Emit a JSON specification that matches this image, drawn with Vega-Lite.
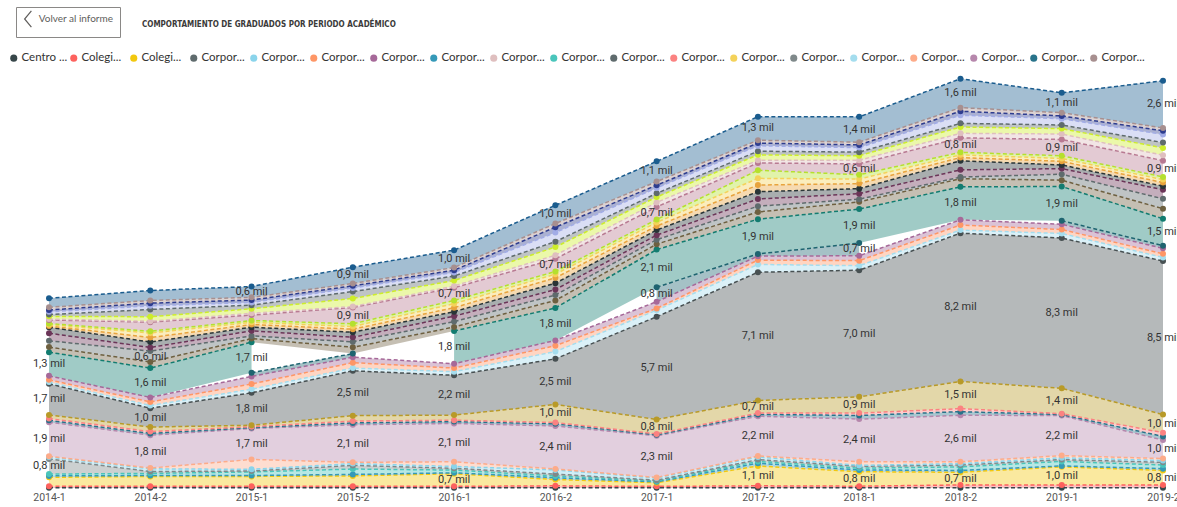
{
  "$schema": "https://vega.github.io/schema/vega-lite/v6.json",
  "width": 1114,
  "height": 416,
  "autosize": {"type": "none"},
  "padding": {"left": 49, "top": 72, "right": 14, "bottom": 19},
  "background": "white",
  "title": {
    "text": "COMPORTAMIENTO DE GRADUADOS POR PERIODO ACADÉMICO",
    "anchor": "start",
    "frame": "group",
    "font": "DejaVu Sans Condensed",
    "fontSize": 8,
    "fontWeight": "bold",
    "color": "#3B3A39",
    "dx": 93,
    "dy": 26
  },
  "config": {
    "view": {"stroke": null},
    "font": "Lato"
  },
  "data": {
    "values": [
      {"periodo": "2014-1", "institucion": "Centro de Estudios Superiores María Goretti", "graduados": 20},
      {"periodo": "2014-2", "institucion": "Centro de Estudios Superiores María Goretti", "graduados": 20},
      {"periodo": "2015-1", "institucion": "Centro de Estudios Superiores María Goretti", "graduados": 20},
      {"periodo": "2015-2", "institucion": "Centro de Estudios Superiores María Goretti", "graduados": 20},
      {"periodo": "2016-1", "institucion": "Centro de Estudios Superiores María Goretti", "graduados": 20},
      {"periodo": "2016-2", "institucion": "Centro de Estudios Superiores María Goretti", "graduados": 20},
      {"periodo": "2017-1", "institucion": "Centro de Estudios Superiores María Goretti", "graduados": 20},
      {"periodo": "2017-2", "institucion": "Centro de Estudios Superiores María Goretti", "graduados": 20},
      {"periodo": "2018-1", "institucion": "Centro de Estudios Superiores María Goretti", "graduados": 20},
      {"periodo": "2018-2", "institucion": "Centro de Estudios Superiores María Goretti", "graduados": 20},
      {"periodo": "2019-1", "institucion": "Centro de Estudios Superiores María Goretti", "graduados": 20},
      {"periodo": "2019-2", "institucion": "Centro de Estudios Superiores María Goretti", "graduados": 20},
      {"periodo": "2014-1", "institucion": "Colegio Mayor de Antioquia", "graduados": 70},
      {"periodo": "2014-2", "institucion": "Colegio Mayor de Antioquia", "graduados": 70},
      {"periodo": "2015-1", "institucion": "Colegio Mayor de Antioquia", "graduados": 70},
      {"periodo": "2015-2", "institucion": "Colegio Mayor de Antioquia", "graduados": 80},
      {"periodo": "2016-1", "institucion": "Colegio Mayor de Antioquia", "graduados": 70},
      {"periodo": "2016-2", "institucion": "Colegio Mayor de Antioquia", "graduados": 100},
      {"periodo": "2017-1", "institucion": "Colegio Mayor de Antioquia", "graduados": 70},
      {"periodo": "2017-2", "institucion": "Colegio Mayor de Antioquia", "graduados": 100},
      {"periodo": "2018-1", "institucion": "Colegio Mayor de Antioquia", "graduados": 80},
      {"periodo": "2018-2", "institucion": "Colegio Mayor de Antioquia", "graduados": 150},
      {"periodo": "2019-1", "institucion": "Colegio Mayor de Antioquia", "graduados": 150},
      {"periodo": "2019-2", "institucion": "Colegio Mayor de Antioquia", "graduados": 150},
      {"periodo": "2014-1", "institucion": "Colegio Mayor del Cauca", "graduados": 500},
      {"periodo": "2014-2", "institucion": "Colegio Mayor del Cauca", "graduados": 550},
      {"periodo": "2015-1", "institucion": "Colegio Mayor del Cauca", "graduados": 550},
      {"periodo": "2015-2", "institucion": "Colegio Mayor del Cauca", "graduados": 570},
      {"periodo": "2016-1", "institucion": "Colegio Mayor del Cauca", "graduados": 700},
      {"periodo": "2016-2", "institucion": "Colegio Mayor del Cauca", "graduados": 350},
      {"periodo": "2017-1", "institucion": "Colegio Mayor del Cauca", "graduados": 200},
      {"periodo": "2017-2", "institucion": "Colegio Mayor del Cauca", "graduados": 1100},
      {"periodo": "2018-1", "institucion": "Colegio Mayor del Cauca", "graduados": 800},
      {"periodo": "2018-2", "institucion": "Colegio Mayor del Cauca", "graduados": 700},
      {"periodo": "2019-1", "institucion": "Colegio Mayor del Cauca", "graduados": 1000},
      {"periodo": "2019-2", "institucion": "Colegio Mayor del Cauca", "graduados": 800},
      {"periodo": "2014-1", "institucion": "Corporación Universitaria Autónoma de Nariño", "graduados": 80},
      {"periodo": "2014-2", "institucion": "Corporación Universitaria Autónoma de Nariño", "graduados": 50},
      {"periodo": "2015-1", "institucion": "Corporación Universitaria Autónoma de Nariño", "graduados": 50},
      {"periodo": "2015-2", "institucion": "Corporación Universitaria Autónoma de Nariño", "graduados": 80},
      {"periodo": "2016-1", "institucion": "Corporación Universitaria Autónoma de Nariño", "graduados": 50},
      {"periodo": "2016-2", "institucion": "Corporación Universitaria Autónoma de Nariño", "graduados": 100},
      {"periodo": "2017-1", "institucion": "Corporación Universitaria Autónoma de Nariño", "graduados": 50},
      {"periodo": "2017-2", "institucion": "Corporación Universitaria Autónoma de Nariño", "graduados": 150},
      {"periodo": "2018-1", "institucion": "Corporación Universitaria Autónoma de Nariño", "graduados": 100},
      {"periodo": "2018-2", "institucion": "Corporación Universitaria Autónoma de Nariño", "graduados": 100},
      {"periodo": "2019-1", "institucion": "Corporación Universitaria Autónoma de Nariño", "graduados": 50},
      {"periodo": "2019-2", "institucion": "Corporación Universitaria Autónoma de Nariño", "graduados": 100},
      {"periodo": "2014-1", "institucion": "Corporación Universitaria de Colombia IDEAS", "graduados": 100},
      {"periodo": "2014-2", "institucion": "Corporación Universitaria de Colombia IDEAS", "graduados": 120},
      {"periodo": "2015-1", "institucion": "Corporación Universitaria de Colombia IDEAS", "graduados": 200},
      {"periodo": "2015-2", "institucion": "Corporación Universitaria de Colombia IDEAS", "graduados": 300},
      {"periodo": "2016-1", "institucion": "Corporación Universitaria de Colombia IDEAS", "graduados": 150},
      {"periodo": "2016-2", "institucion": "Corporación Universitaria de Colombia IDEAS", "graduados": 100},
      {"periodo": "2017-1", "institucion": "Corporación Universitaria de Colombia IDEAS", "graduados": 50},
      {"periodo": "2017-2", "institucion": "Corporación Universitaria de Colombia IDEAS", "graduados": 100},
      {"periodo": "2018-1", "institucion": "Corporación Universitaria de Colombia IDEAS", "graduados": 100},
      {"periodo": "2018-2", "institucion": "Corporación Universitaria de Colombia IDEAS", "graduados": 200},
      {"periodo": "2019-1", "institucion": "Corporación Universitaria de Colombia IDEAS", "graduados": 250},
      {"periodo": "2019-2", "institucion": "Corporación Universitaria de Colombia IDEAS", "graduados": 200},
      {"periodo": "2014-1", "institucion": "Corporación Universitaria Rafael Núñez", "graduados": 840},
      {"periodo": "2014-2", "institucion": "Corporación Universitaria Rafael Núñez", "graduados": 100},
      {"periodo": "2015-1", "institucion": "Corporación Universitaria Rafael Núñez", "graduados": 50},
      {"periodo": "2015-2", "institucion": "Corporación Universitaria Rafael Núñez", "graduados": 200},
      {"periodo": "2016-1", "institucion": "Corporación Universitaria Rafael Núñez", "graduados": 100},
      {"periodo": "2016-2", "institucion": "Corporación Universitaria Rafael Núñez", "graduados": 100},
      {"periodo": "2017-1", "institucion": "Corporación Universitaria Rafael Núñez", "graduados": 40},
      {"periodo": "2017-2", "institucion": "Corporación Universitaria Rafael Núñez", "graduados": 100},
      {"periodo": "2018-1", "institucion": "Corporación Universitaria Rafael Núñez", "graduados": 100},
      {"periodo": "2018-2", "institucion": "Corporación Universitaria Rafael Núñez", "graduados": 100},
      {"periodo": "2019-1", "institucion": "Corporación Universitaria Rafael Núñez", "graduados": 100},
      {"periodo": "2019-2", "institucion": "Corporación Universitaria Rafael Núñez", "graduados": 150},
      {"periodo": "2014-1", "institucion": "Corporación Universitaria Adventista", "graduados": 100},
      {"periodo": "2014-2", "institucion": "Corporación Universitaria Adventista", "graduados": 150},
      {"periodo": "2015-1", "institucion": "Corporación Universitaria Adventista", "graduados": 90},
      {"periodo": "2015-2", "institucion": "Corporación Universitaria Adventista", "graduados": 100},
      {"periodo": "2016-1", "institucion": "Corporación Universitaria Adventista", "graduados": 100},
      {"periodo": "2016-2", "institucion": "Corporación Universitaria Adventista", "graduados": 230},
      {"periodo": "2017-1", "institucion": "Corporación Universitaria Adventista", "graduados": 120},
      {"periodo": "2017-2", "institucion": "Corporación Universitaria Adventista", "graduados": 150},
      {"periodo": "2018-1", "institucion": "Corporación Universitaria Adventista", "graduados": 50},
      {"periodo": "2018-2", "institucion": "Corporación Universitaria Adventista", "graduados": 80},
      {"periodo": "2019-1", "institucion": "Corporación Universitaria Adventista", "graduados": 100},
      {"periodo": "2019-2", "institucion": "Corporación Universitaria Adventista", "graduados": 100},
      {"periodo": "2014-1", "institucion": "Corporación Universitaria Unitec", "graduados": 50},
      {"periodo": "2014-2", "institucion": "Corporación Universitaria Unitec", "graduados": 40},
      {"periodo": "2015-1", "institucion": "Corporación Universitaria Unitec", "graduados": 550},
      {"periodo": "2015-2", "institucion": "Corporación Universitaria Unitec", "graduados": 70},
      {"periodo": "2016-1", "institucion": "Corporación Universitaria Unitec", "graduados": 260},
      {"periodo": "2016-2", "institucion": "Corporación Universitaria Unitec", "graduados": 50},
      {"periodo": "2017-1", "institucion": "Corporación Universitaria Unitec", "graduados": 30},
      {"periodo": "2017-2", "institucion": "Corporación Universitaria Unitec", "graduados": 50},
      {"periodo": "2018-1", "institucion": "Corporación Universitaria Unitec", "graduados": 200},
      {"periodo": "2018-2", "institucion": "Corporación Universitaria Unitec", "graduados": 100},
      {"periodo": "2019-1", "institucion": "Corporación Universitaria Unitec", "graduados": 120},
      {"periodo": "2019-2", "institucion": "Corporación Universitaria Unitec", "graduados": 110},
      {"periodo": "2014-1", "institucion": "Corporación Universitaria Americana", "graduados": 1880},
      {"periodo": "2014-2", "institucion": "Corporación Universitaria Americana", "graduados": 1820},
      {"periodo": "2015-1", "institucion": "Corporación Universitaria Americana", "graduados": 1710},
      {"periodo": "2015-2", "institucion": "Corporación Universitaria Americana", "graduados": 2080},
      {"periodo": "2016-1", "institucion": "Corporación Universitaria Americana", "graduados": 2120},
      {"periodo": "2016-2", "institucion": "Corporación Universitaria Americana", "graduados": 2380},
      {"periodo": "2017-1", "institucion": "Corporación Universitaria Americana", "graduados": 2310},
      {"periodo": "2017-2", "institucion": "Corporación Universitaria Americana", "graduados": 2200},
      {"periodo": "2018-1", "institucion": "Corporación Universitaria Americana", "graduados": 2360},
      {"periodo": "2018-2", "institucion": "Corporación Universitaria Americana", "graduados": 2570},
      {"periodo": "2019-1", "institucion": "Corporación Universitaria Americana", "graduados": 2220},
      {"periodo": "2019-2", "institucion": "Corporación Universitaria Americana", "graduados": 1020},
      {"periodo": "2014-1", "institucion": "Corporación Universitaria Comfacauca", "graduados": 100},
      {"periodo": "2014-2", "institucion": "Corporación Universitaria Comfacauca", "graduados": 100},
      {"periodo": "2015-1", "institucion": "Corporación Universitaria Comfacauca", "graduados": 50},
      {"periodo": "2015-2", "institucion": "Corporación Universitaria Comfacauca", "graduados": 100},
      {"periodo": "2016-1", "institucion": "Corporación Universitaria Comfacauca", "graduados": 100},
      {"periodo": "2016-2", "institucion": "Corporación Universitaria Comfacauca", "graduados": 120},
      {"periodo": "2017-1", "institucion": "Corporación Universitaria Comfacauca", "graduados": 50},
      {"periodo": "2017-2", "institucion": "Corporación Universitaria Comfacauca", "graduados": 100},
      {"periodo": "2018-1", "institucion": "Corporación Universitaria Comfacauca", "graduados": 200},
      {"periodo": "2018-2", "institucion": "Corporación Universitaria Comfacauca", "graduados": 200},
      {"periodo": "2019-1", "institucion": "Corporación Universitaria Comfacauca", "graduados": 50},
      {"periodo": "2019-2", "institucion": "Corporación Universitaria Comfacauca", "graduados": 200},
      {"periodo": "2014-1", "institucion": "Corporación Universitaria Republicana", "graduados": 100},
      {"periodo": "2014-2", "institucion": "Corporación Universitaria Republicana", "graduados": 100},
      {"periodo": "2015-1", "institucion": "Corporación Universitaria Republicana", "graduados": 50},
      {"periodo": "2015-2", "institucion": "Corporación Universitaria Republicana", "graduados": 100},
      {"periodo": "2016-1", "institucion": "Corporación Universitaria Republicana", "graduados": 80},
      {"periodo": "2016-2", "institucion": "Corporación Universitaria Republicana", "graduados": 70},
      {"periodo": "2017-1", "institucion": "Corporación Universitaria Republicana", "graduados": 50},
      {"periodo": "2017-2", "institucion": "Corporación Universitaria Republicana", "graduados": 70},
      {"periodo": "2018-1", "institucion": "Corporación Universitaria Republicana", "graduados": 130},
      {"periodo": "2018-2", "institucion": "Corporación Universitaria Republicana", "graduados": 170},
      {"periodo": "2019-1", "institucion": "Corporación Universitaria Republicana", "graduados": 50},
      {"periodo": "2019-2", "institucion": "Corporación Universitaria Republicana", "graduados": 210},
      {"periodo": "2014-1", "institucion": "Fundación Universitaria del Área Andina", "graduados": 200},
      {"periodo": "2014-2", "institucion": "Fundación Universitaria del Área Andina", "graduados": 250},
      {"periodo": "2015-1", "institucion": "Fundación Universitaria del Área Andina", "graduados": 80},
      {"periodo": "2015-2", "institucion": "Fundación Universitaria del Área Andina", "graduados": 300},
      {"periodo": "2016-1", "institucion": "Fundación Universitaria del Área Andina", "graduados": 280},
      {"periodo": "2016-2", "institucion": "Fundación Universitaria del Área Andina", "graduados": 1000},
      {"periodo": "2017-1", "institucion": "Fundación Universitaria del Área Andina", "graduados": 800},
      {"periodo": "2017-2", "institucion": "Fundación Universitaria del Área Andina", "graduados": 700},
      {"periodo": "2018-1", "institucion": "Fundación Universitaria del Área Andina", "graduados": 900},
      {"periodo": "2018-2", "institucion": "Fundación Universitaria del Área Andina", "graduados": 1500},
      {"periodo": "2019-1", "institucion": "Fundación Universitaria del Área Andina", "graduados": 1400},
      {"periodo": "2019-2", "institucion": "Fundación Universitaria del Área Andina", "graduados": 1000},
      {"periodo": "2014-1", "institucion": "Universidad Nacional Abierta y a Distancia", "graduados": 1720},
      {"periodo": "2014-2", "institucion": "Universidad Nacional Abierta y a Distancia", "graduados": 1040},
      {"periodo": "2015-1", "institucion": "Universidad Nacional Abierta y a Distancia", "graduados": 1790},
      {"periodo": "2015-2", "institucion": "Universidad Nacional Abierta y a Distancia", "graduados": 2480},
      {"periodo": "2016-1", "institucion": "Universidad Nacional Abierta y a Distancia", "graduados": 2200},
      {"periodo": "2016-2", "institucion": "Universidad Nacional Abierta y a Distancia", "graduados": 2520},
      {"periodo": "2017-1", "institucion": "Universidad Nacional Abierta y a Distancia", "graduados": 5680},
      {"periodo": "2017-2", "institucion": "Universidad Nacional Abierta y a Distancia", "graduados": 7090},
      {"periodo": "2018-1", "institucion": "Universidad Nacional Abierta y a Distancia", "graduados": 7000},
      {"periodo": "2018-2", "institucion": "Universidad Nacional Abierta y a Distancia", "graduados": 8200},
      {"periodo": "2019-1", "institucion": "Universidad Nacional Abierta y a Distancia", "graduados": 8310},
      {"periodo": "2019-2", "institucion": "Universidad Nacional Abierta y a Distancia", "graduados": 8490},
      {"periodo": "2014-1", "institucion": "Corporación Universitaria Lasallista", "graduados": 100},
      {"periodo": "2014-2", "institucion": "Corporación Universitaria Lasallista", "graduados": 150},
      {"periodo": "2015-1", "institucion": "Corporación Universitaria Lasallista", "graduados": 200},
      {"periodo": "2015-2", "institucion": "Corporación Universitaria Lasallista", "graduados": 150},
      {"periodo": "2016-1", "institucion": "Corporación Universitaria Lasallista", "graduados": 200},
      {"periodo": "2016-2", "institucion": "Corporación Universitaria Lasallista", "graduados": 400},
      {"periodo": "2017-1", "institucion": "Corporación Universitaria Lasallista", "graduados": 360},
      {"periodo": "2017-2", "institucion": "Corporación Universitaria Lasallista", "graduados": 430},
      {"periodo": "2018-1", "institucion": "Corporación Universitaria Lasallista", "graduados": 250},
      {"periodo": "2018-2", "institucion": "Corporación Universitaria Lasallista", "graduados": 170},
      {"periodo": "2019-1", "institucion": "Corporación Universitaria Lasallista", "graduados": 250},
      {"periodo": "2019-2", "institucion": "Corporación Universitaria Lasallista", "graduados": 200},
      {"periodo": "2014-1", "institucion": "Corporación Universitaria Autónoma del Cauca", "graduados": 120},
      {"periodo": "2014-2", "institucion": "Corporación Universitaria Autónoma del Cauca", "graduados": 200},
      {"periodo": "2015-1", "institucion": "Corporación Universitaria Autónoma del Cauca", "graduados": 290},
      {"periodo": "2015-2", "institucion": "Corporación Universitaria Autónoma del Cauca", "graduados": 300},
      {"periodo": "2016-1", "institucion": "Corporación Universitaria Autónoma del Cauca", "graduados": 200},
      {"periodo": "2016-2", "institucion": "Corporación Universitaria Autónoma del Cauca", "graduados": 330},
      {"periodo": "2017-1", "institucion": "Corporación Universitaria Autónoma del Cauca", "graduados": 100},
      {"periodo": "2017-2", "institucion": "Corporación Universitaria Autónoma del Cauca", "graduados": 240},
      {"periodo": "2018-1", "institucion": "Corporación Universitaria Autónoma del Cauca", "graduados": 280},
      {"periodo": "2018-2", "institucion": "Corporación Universitaria Autónoma del Cauca", "graduados": 280},
      {"periodo": "2019-1", "institucion": "Corporación Universitaria Autónoma del Cauca", "graduados": 220},
      {"periodo": "2019-2", "institucion": "Corporación Universitaria Autónoma del Cauca", "graduados": 200},
      {"periodo": "2014-1", "institucion": "Corporación Universitaria U de Colombia", "graduados": 220},
      {"periodo": "2014-2", "institucion": "Corporación Universitaria U de Colombia", "graduados": 250},
      {"periodo": "2015-1", "institucion": "Corporación Universitaria U de Colombia", "graduados": 420},
      {"periodo": "2015-2", "institucion": "Corporación Universitaria U de Colombia", "graduados": 300},
      {"periodo": "2016-1", "institucion": "Corporación Universitaria U de Colombia", "graduados": 240},
      {"periodo": "2016-2", "institucion": "Corporación Universitaria U de Colombia", "graduados": 290},
      {"periodo": "2017-1", "institucion": "Corporación Universitaria U de Colombia", "graduados": 370},
      {"periodo": "2017-2", "institucion": "Corporación Universitaria U de Colombia", "graduados": 220},
      {"periodo": "2018-1", "institucion": "Corporación Universitaria U de Colombia", "graduados": 270},
      {"periodo": "2018-2", "institucion": "Corporación Universitaria U de Colombia", "graduados": 290},
      {"periodo": "2019-1", "institucion": "Corporación Universitaria U de Colombia", "graduados": 290},
      {"periodo": "2019-2", "institucion": "Corporación Universitaria U de Colombia", "graduados": 300},
      {"periodo": "2014-1", "institucion": "Fundación Universitaria Católica del Norte", "graduados": null},
      {"periodo": "2014-2", "institucion": "Fundación Universitaria Católica del Norte", "graduados": null},
      {"periodo": "2015-1", "institucion": "Fundación Universitaria Católica del Norte", "graduados": 200},
      {"periodo": "2015-2", "institucion": "Fundación Universitaria Católica del Norte", "graduados": 200},
      {"periodo": "2016-1", "institucion": "Fundación Universitaria Católica del Norte", "graduados": null},
      {"periodo": "2016-2", "institucion": "Fundación Universitaria Católica del Norte", "graduados": null},
      {"periodo": "2017-1", "institucion": "Fundación Universitaria Católica del Norte", "graduados": 800},
      {"periodo": "2017-2", "institucion": "Fundación Universitaria Católica del Norte", "graduados": 120},
      {"periodo": "2018-1", "institucion": "Fundación Universitaria Católica del Norte", "graduados": 700},
      {"periodo": "2018-2", "institucion": "Fundación Universitaria Católica del Norte", "graduados": null},
      {"periodo": "2019-1", "institucion": "Fundación Universitaria Católica del Norte", "graduados": 200},
      {"periodo": "2019-2", "institucion": "Fundación Universitaria Católica del Norte", "graduados": 150},
      {"periodo": "2014-1", "institucion": "Fundación Universitaria Los Libertadores", "graduados": 1310},
      {"periodo": "2014-2", "institucion": "Fundación Universitaria Los Libertadores", "graduados": 1620},
      {"periodo": "2015-1", "institucion": "Fundación Universitaria Los Libertadores", "graduados": 1690},
      {"periodo": "2015-2", "institucion": "Fundación Universitaria Los Libertadores", "graduados": null},
      {"periodo": "2016-1", "institucion": "Fundación Universitaria Los Libertadores", "graduados": 1810},
      {"periodo": "2016-2", "institucion": "Fundación Universitaria Los Libertadores", "graduados": 1790},
      {"periodo": "2017-1", "institucion": "Fundación Universitaria Los Libertadores", "graduados": 2080},
      {"periodo": "2017-2", "institucion": "Fundación Universitaria Los Libertadores", "graduados": 1920},
      {"periodo": "2018-1", "institucion": "Fundación Universitaria Los Libertadores", "graduados": 1880},
      {"periodo": "2018-2", "institucion": "Fundación Universitaria Los Libertadores", "graduados": 1820},
      {"periodo": "2019-1", "institucion": "Fundación Universitaria Los Libertadores", "graduados": 1890},
      {"periodo": "2019-2", "institucion": "Fundación Universitaria Los Libertadores", "graduados": 1490},
      {"periodo": "2014-1", "institucion": "Fundación Universitaria San Mateo", "graduados": 280},
      {"periodo": "2014-2", "institucion": "Fundación Universitaria San Mateo", "graduados": 340},
      {"periodo": "2015-1", "institucion": "Fundación Universitaria San Mateo", "graduados": 200},
      {"periodo": "2015-2", "institucion": "Fundación Universitaria San Mateo", "graduados": 350},
      {"periodo": "2016-1", "institucion": "Fundación Universitaria San Mateo", "graduados": 220},
      {"periodo": "2016-2", "institucion": "Fundación Universitaria San Mateo", "graduados": 420},
      {"periodo": "2017-1", "institucion": "Fundación Universitaria San Mateo", "graduados": 300},
      {"periodo": "2017-2", "institucion": "Fundación Universitaria San Mateo", "graduados": 400},
      {"periodo": "2018-1", "institucion": "Fundación Universitaria San Mateo", "graduados": 400},
      {"periodo": "2018-2", "institucion": "Fundación Universitaria San Mateo", "graduados": 450},
      {"periodo": "2019-1", "institucion": "Fundación Universitaria San Mateo", "graduados": 350},
      {"periodo": "2019-2", "institucion": "Fundación Universitaria San Mateo", "graduados": 550},
      {"periodo": "2014-1", "institucion": "Corporación Universitaria de Ciencia y Desarrollo", "graduados": 350},
      {"periodo": "2014-2", "institucion": "Corporación Universitaria de Ciencia y Desarrollo", "graduados": 600},
      {"periodo": "2015-1", "institucion": "Corporación Universitaria de Ciencia y Desarrollo", "graduados": 150},
      {"periodo": "2015-2", "institucion": "Corporación Universitaria de Ciencia y Desarrollo", "graduados": 300},
      {"periodo": "2016-1", "institucion": "Corporación Universitaria de Ciencia y Desarrollo", "graduados": 300},
      {"periodo": "2016-2", "institucion": "Corporación Universitaria de Ciencia y Desarrollo", "graduados": 300},
      {"periodo": "2017-1", "institucion": "Corporación Universitaria de Ciencia y Desarrollo", "graduados": 250},
      {"periodo": "2017-2", "institucion": "Corporación Universitaria de Ciencia y Desarrollo", "graduados": 320},
      {"periodo": "2018-1", "institucion": "Corporación Universitaria de Ciencia y Desarrollo", "graduados": 150},
      {"periodo": "2018-2", "institucion": "Corporación Universitaria de Ciencia y Desarrollo", "graduados": 90},
      {"periodo": "2019-1", "institucion": "Corporación Universitaria de Ciencia y Desarrollo", "graduados": 330},
      {"periodo": "2019-2", "institucion": "Corporación Universitaria de Ciencia y Desarrollo", "graduados": 550},
      {"periodo": "2014-1", "institucion": "Institución Universitaria Politécnico Grancolombiano", "graduados": 420},
      {"periodo": "2014-2", "institucion": "Institución Universitaria Politécnico Grancolombiano", "graduados": 200},
      {"periodo": "2015-1", "institucion": "Institución Universitaria Politécnico Grancolombiano", "graduados": 280},
      {"periodo": "2015-2", "institucion": "Institución Universitaria Politécnico Grancolombiano", "graduados": 250},
      {"periodo": "2016-1", "institucion": "Institución Universitaria Politécnico Grancolombiano", "graduados": 300},
      {"periodo": "2016-2", "institucion": "Institución Universitaria Politécnico Grancolombiano", "graduados": 300},
      {"periodo": "2017-1", "institucion": "Institución Universitaria Politécnico Grancolombiano", "graduados": 250},
      {"periodo": "2017-2", "institucion": "Institución Universitaria Politécnico Grancolombiano", "graduados": 400},
      {"periodo": "2018-1", "institucion": "Institución Universitaria Politécnico Grancolombiano", "graduados": 300},
      {"periodo": "2018-2", "institucion": "Institución Universitaria Politécnico Grancolombiano", "graduados": 400},
      {"periodo": "2019-1", "institucion": "Institución Universitaria Politécnico Grancolombiano", "graduados": 310},
      {"periodo": "2019-2", "institucion": "Institución Universitaria Politécnico Grancolombiano", "graduados": 500},
      {"periodo": "2014-1", "institucion": "Institución Universitaria Antonio José Camacho", "graduados": 330},
      {"periodo": "2014-2", "institucion": "Institución Universitaria Antonio José Camacho", "graduados": 300},
      {"periodo": "2015-1", "institucion": "Institución Universitaria Antonio José Camacho", "graduados": 200},
      {"periodo": "2015-2", "institucion": "Institución Universitaria Antonio José Camacho", "graduados": 280},
      {"periodo": "2016-1", "institucion": "Institución Universitaria Antonio José Camacho", "graduados": 250},
      {"periodo": "2016-2", "institucion": "Institución Universitaria Antonio José Camacho", "graduados": 350},
      {"periodo": "2017-1", "institucion": "Institución Universitaria Antonio José Camacho", "graduados": 280},
      {"periodo": "2017-2", "institucion": "Institución Universitaria Antonio José Camacho", "graduados": 400},
      {"periodo": "2018-1", "institucion": "Institución Universitaria Antonio José Camacho", "graduados": 280},
      {"periodo": "2018-2", "institucion": "Institución Universitaria Antonio José Camacho", "graduados": 500},
      {"periodo": "2019-1", "institucion": "Institución Universitaria Antonio José Camacho", "graduados": 200},
      {"periodo": "2019-2", "institucion": "Institución Universitaria Antonio José Camacho", "graduados": 200},
      {"periodo": "2014-1", "institucion": "Institución Universitaria Pascual Bravo", "graduados": 70},
      {"periodo": "2014-2", "institucion": "Institución Universitaria Pascual Bravo", "graduados": 250},
      {"periodo": "2015-1", "institucion": "Institución Universitaria Pascual Bravo", "graduados": 150},
      {"periodo": "2015-2", "institucion": "Institución Universitaria Pascual Bravo", "graduados": 170},
      {"periodo": "2016-1", "institucion": "Institución Universitaria Pascual Bravo", "graduados": 220},
      {"periodo": "2016-2", "institucion": "Institución Universitaria Pascual Bravo", "graduados": 300},
      {"periodo": "2017-1", "institucion": "Institución Universitaria Pascual Bravo", "graduados": 220},
      {"periodo": "2017-2", "institucion": "Institución Universitaria Pascual Bravo", "graduados": 370},
      {"periodo": "2018-1", "institucion": "Institución Universitaria Pascual Bravo", "graduados": 280},
      {"periodo": "2018-2", "institucion": "Institución Universitaria Pascual Bravo", "graduados": 180},
      {"periodo": "2019-1", "institucion": "Institución Universitaria Pascual Bravo", "graduados": 200},
      {"periodo": "2019-2", "institucion": "Institución Universitaria Pascual Bravo", "graduados": 200},
      {"periodo": "2014-1", "institucion": "Corporación Universitaria del Huila", "graduados": 70},
      {"periodo": "2014-2", "institucion": "Corporación Universitaria del Huila", "graduados": 250},
      {"periodo": "2015-1", "institucion": "Corporación Universitaria del Huila", "graduados": 120},
      {"periodo": "2015-2", "institucion": "Corporación Universitaria del Huila", "graduados": 150},
      {"periodo": "2016-1", "institucion": "Corporación Universitaria del Huila", "graduados": 220},
      {"periodo": "2016-2", "institucion": "Corporación Universitaria del Huila", "graduados": 200},
      {"periodo": "2017-1", "institucion": "Corporación Universitaria del Huila", "graduados": 200},
      {"periodo": "2017-2", "institucion": "Corporación Universitaria del Huila", "graduados": 370},
      {"periodo": "2018-1", "institucion": "Corporación Universitaria del Huila", "graduados": 250},
      {"periodo": "2018-2", "institucion": "Corporación Universitaria del Huila", "graduados": 150},
      {"periodo": "2019-1", "institucion": "Corporación Universitaria del Huila", "graduados": 160},
      {"periodo": "2019-2", "institucion": "Corporación Universitaria del Huila", "graduados": 160},
      {"periodo": "2014-1", "institucion": "Politécnico Colombiano Jaime Isaza Cadavid", "graduados": 60},
      {"periodo": "2014-2", "institucion": "Politécnico Colombiano Jaime Isaza Cadavid", "graduados": 100},
      {"periodo": "2015-1", "institucion": "Politécnico Colombiano Jaime Isaza Cadavid", "graduados": 100},
      {"periodo": "2015-2", "institucion": "Politécnico Colombiano Jaime Isaza Cadavid", "graduados": 150},
      {"periodo": "2016-1", "institucion": "Politécnico Colombiano Jaime Isaza Cadavid", "graduados": 180},
      {"periodo": "2016-2", "institucion": "Politécnico Colombiano Jaime Isaza Cadavid", "graduados": 150},
      {"periodo": "2017-1", "institucion": "Politécnico Colombiano Jaime Isaza Cadavid", "graduados": 160},
      {"periodo": "2017-2", "institucion": "Politécnico Colombiano Jaime Isaza Cadavid", "graduados": 450},
      {"periodo": "2018-1", "institucion": "Politécnico Colombiano Jaime Isaza Cadavid", "graduados": 240},
      {"periodo": "2018-2", "institucion": "Politécnico Colombiano Jaime Isaza Cadavid", "graduados": 140},
      {"periodo": "2019-1", "institucion": "Politécnico Colombiano Jaime Isaza Cadavid", "graduados": 150},
      {"periodo": "2019-2", "institucion": "Politécnico Colombiano Jaime Isaza Cadavid", "graduados": 150},
      {"periodo": "2014-1", "institucion": "Universidad Católica de Oriente", "graduados": 200},
      {"periodo": "2014-2", "institucion": "Universidad Católica de Oriente", "graduados": 500},
      {"periodo": "2015-1", "institucion": "Universidad Católica de Oriente", "graduados": 300},
      {"periodo": "2015-2", "institucion": "Universidad Católica de Oriente", "graduados": 900},
      {"periodo": "2016-1", "institucion": "Universidad Católica de Oriente", "graduados": 700},
      {"periodo": "2016-2", "institucion": "Universidad Católica de Oriente", "graduados": 700},
      {"periodo": "2017-1", "institucion": "Universidad Católica de Oriente", "graduados": 700},
      {"periodo": "2017-2", "institucion": "Universidad Católica de Oriente", "graduados": 400},
      {"periodo": "2018-1", "institucion": "Universidad Católica de Oriente", "graduados": 600},
      {"periodo": "2018-2", "institucion": "Universidad Católica de Oriente", "graduados": 800},
      {"periodo": "2019-1", "institucion": "Universidad Católica de Oriente", "graduados": 900},
      {"periodo": "2019-2", "institucion": "Universidad Católica de Oriente", "graduados": 900},
      {"periodo": "2014-1", "institucion": "Corporación Universitaria Iberoamericana", "graduados": 50},
      {"periodo": "2014-2", "institucion": "Corporación Universitaria Iberoamericana", "graduados": 50},
      {"periodo": "2015-1", "institucion": "Corporación Universitaria Iberoamericana", "graduados": 100},
      {"periodo": "2015-2", "institucion": "Corporación Universitaria Iberoamericana", "graduados": 50},
      {"periodo": "2016-1", "institucion": "Corporación Universitaria Iberoamericana", "graduados": 100},
      {"periodo": "2016-2", "institucion": "Corporación Universitaria Iberoamericana", "graduados": 200},
      {"periodo": "2017-1", "institucion": "Corporación Universitaria Iberoamericana", "graduados": 250},
      {"periodo": "2017-2", "institucion": "Corporación Universitaria Iberoamericana", "graduados": 150},
      {"periodo": "2018-1", "institucion": "Corporación Universitaria Iberoamericana", "graduados": 200},
      {"periodo": "2018-2", "institucion": "Corporación Universitaria Iberoamericana", "graduados": 250},
      {"periodo": "2019-1", "institucion": "Corporación Universitaria Iberoamericana", "graduados": 300},
      {"periodo": "2019-2", "institucion": "Corporación Universitaria Iberoamericana", "graduados": 300},
      {"periodo": "2014-1", "institucion": "Universidad Cooperativa de Colombia", "graduados": 150},
      {"periodo": "2014-2", "institucion": "Universidad Cooperativa de Colombia", "graduados": 250},
      {"periodo": "2015-1", "institucion": "Universidad Cooperativa de Colombia", "graduados": 250},
      {"periodo": "2015-2", "institucion": "Universidad Cooperativa de Colombia", "graduados": 450},
      {"periodo": "2016-1", "institucion": "Universidad Cooperativa de Colombia", "graduados": 300},
      {"periodo": "2016-2", "institucion": "Universidad Cooperativa de Colombia", "graduados": 450},
      {"periodo": "2017-1", "institucion": "Universidad Cooperativa de Colombia", "graduados": 300},
      {"periodo": "2017-2", "institucion": "Universidad Cooperativa de Colombia", "graduados": 300},
      {"periodo": "2018-1", "institucion": "Universidad Cooperativa de Colombia", "graduados": 250},
      {"periodo": "2018-2", "institucion": "Universidad Cooperativa de Colombia", "graduados": 350},
      {"periodo": "2019-1", "institucion": "Universidad Cooperativa de Colombia", "graduados": 300},
      {"periodo": "2019-2", "institucion": "Universidad Cooperativa de Colombia", "graduados": 400},
      {"periodo": "2014-1", "institucion": "Corporación Universitaria Minuto de Dios", "graduados": 100},
      {"periodo": "2014-2", "institucion": "Corporación Universitaria Minuto de Dios", "graduados": 400},
      {"periodo": "2015-1", "institucion": "Corporación Universitaria Minuto de Dios", "graduados": 200},
      {"periodo": "2015-2", "institucion": "Corporación Universitaria Minuto de Dios", "graduados": 380},
      {"periodo": "2016-1", "institucion": "Corporación Universitaria Minuto de Dios", "graduados": 250},
      {"periodo": "2016-2", "institucion": "Corporación Universitaria Minuto de Dios", "graduados": 300},
      {"periodo": "2017-1", "institucion": "Corporación Universitaria Minuto de Dios", "graduados": 200},
      {"periodo": "2017-2", "institucion": "Corporación Universitaria Minuto de Dios", "graduados": 200},
      {"periodo": "2018-1", "institucion": "Corporación Universitaria Minuto de Dios", "graduados": 200},
      {"periodo": "2018-2", "institucion": "Corporación Universitaria Minuto de Dios", "graduados": 200},
      {"periodo": "2019-1", "institucion": "Corporación Universitaria Minuto de Dios", "graduados": 200},
      {"periodo": "2019-2", "institucion": "Corporación Universitaria Minuto de Dios", "graduados": 300},
      {"periodo": "2014-1", "institucion": "Universidad del Magdalena", "graduados": 150},
      {"periodo": "2014-2", "institucion": "Universidad del Magdalena", "graduados": 200},
      {"periodo": "2015-1", "institucion": "Universidad del Magdalena", "graduados": 150},
      {"periodo": "2015-2", "institucion": "Universidad del Magdalena", "graduados": 200},
      {"periodo": "2016-1", "institucion": "Universidad del Magdalena", "graduados": 200},
      {"periodo": "2016-2", "institucion": "Universidad del Magdalena", "graduados": 500},
      {"periodo": "2017-1", "institucion": "Universidad del Magdalena", "graduados": 300},
      {"periodo": "2017-2", "institucion": "Universidad del Magdalena", "graduados": 300},
      {"periodo": "2018-1", "institucion": "Universidad del Magdalena", "graduados": 250},
      {"periodo": "2018-2", "institucion": "Universidad del Magdalena", "graduados": 450},
      {"periodo": "2019-1", "institucion": "Universidad del Magdalena", "graduados": 350},
      {"periodo": "2019-2", "institucion": "Universidad del Magdalena", "graduados": 450},
      {"periodo": "2014-1", "institucion": "Universidad EAN", "graduados": 100},
      {"periodo": "2014-2", "institucion": "Universidad EAN", "graduados": 150},
      {"periodo": "2015-1", "institucion": "Universidad EAN", "graduados": 130},
      {"periodo": "2015-2", "institucion": "Universidad EAN", "graduados": 120},
      {"periodo": "2016-1", "institucion": "Universidad EAN", "graduados": 120},
      {"periodo": "2016-2", "institucion": "Universidad EAN", "graduados": 300},
      {"periodo": "2017-1", "institucion": "Universidad EAN", "graduados": 150},
      {"periodo": "2017-2", "institucion": "Universidad EAN", "graduados": 150},
      {"periodo": "2018-1", "institucion": "Universidad EAN", "graduados": 150},
      {"periodo": "2018-2", "institucion": "Universidad EAN", "graduados": 220},
      {"periodo": "2019-1", "institucion": "Universidad EAN", "graduados": 150},
      {"periodo": "2019-2", "institucion": "Universidad EAN", "graduados": 200},
      {"periodo": "2014-1", "institucion": "Corporación Universitaria Remington", "graduados": 150},
      {"periodo": "2014-2", "institucion": "Corporación Universitaria Remington", "graduados": 150},
      {"periodo": "2015-1", "institucion": "Corporación Universitaria Remington", "graduados": 150},
      {"periodo": "2015-2", "institucion": "Corporación Universitaria Remington", "graduados": 130},
      {"periodo": "2016-1", "institucion": "Corporación Universitaria Remington", "graduados": 150},
      {"periodo": "2016-2", "institucion": "Corporación Universitaria Remington", "graduados": 200},
      {"periodo": "2017-1", "institucion": "Corporación Universitaria Remington", "graduados": 200},
      {"periodo": "2017-2", "institucion": "Corporación Universitaria Remington", "graduados": 160},
      {"periodo": "2018-1", "institucion": "Corporación Universitaria Remington", "graduados": 150},
      {"periodo": "2018-2", "institucion": "Corporación Universitaria Remington", "graduados": 200},
      {"periodo": "2019-1", "institucion": "Corporación Universitaria Remington", "graduados": 180},
      {"periodo": "2019-2", "institucion": "Corporación Universitaria Remington", "graduados": 160},
      {"periodo": "2014-1", "institucion": "Universidad del Tolima", "graduados": 500},
      {"periodo": "2014-2", "institucion": "Universidad del Tolima", "graduados": 550},
      {"periodo": "2015-1", "institucion": "Universidad del Tolima", "graduados": 600},
      {"periodo": "2015-2", "institucion": "Universidad del Tolima", "graduados": 900},
      {"periodo": "2016-1", "institucion": "Universidad del Tolima", "graduados": 960},
      {"periodo": "2016-2", "institucion": "Universidad del Tolima", "graduados": 1010},
      {"periodo": "2017-1", "institucion": "Universidad del Tolima", "graduados": 1120},
      {"periodo": "2017-2", "institucion": "Universidad del Tolima", "graduados": 1300},
      {"periodo": "2018-1", "institucion": "Universidad del Tolima", "graduados": 1400},
      {"periodo": "2018-2", "institucion": "Universidad del Tolima", "graduados": 1600},
      {"periodo": "2019-1", "institucion": "Universidad del Tolima", "graduados": 1100},
      {"periodo": "2019-2", "institucion": "Universidad del Tolima", "graduados": 2600}
    ]
  },
  "transform": [
    {"calculate": "indexof(['Centro de Estudios Superiores María Goretti','Colegio Mayor de Antioquia','Colegio Mayor del Cauca','Corporación Universitaria Autónoma de Nariño','Corporación Universitaria de Colombia IDEAS','Corporación Universitaria Rafael Núñez','Corporación Universitaria Adventista','Corporación Universitaria Unitec','Corporación Universitaria Americana','Corporación Universitaria Comfacauca','Corporación Universitaria Republicana','Fundación Universitaria del Área Andina','Universidad Nacional Abierta y a Distancia','Corporación Universitaria Lasallista','Corporación Universitaria Autónoma del Cauca','Corporación Universitaria U de Colombia','Fundación Universitaria Católica del Norte','Fundación Universitaria Los Libertadores','Fundación Universitaria San Mateo','Corporación Universitaria de Ciencia y Desarrollo','Institución Universitaria Politécnico Grancolombiano','Institución Universitaria Antonio José Camacho','Institución Universitaria Pascual Bravo','Corporación Universitaria del Huila','Politécnico Colombiano Jaime Isaza Cadavid','Universidad Católica de Oriente','Corporación Universitaria Iberoamericana','Universidad Cooperativa de Colombia','Corporación Universitaria Minuto de Dios','Universidad del Magdalena','Universidad EAN','Corporación Universitaria Remington','Universidad del Tolima'], datum.institucion)", "as": "orden"},
    {"stack": "graduados", "groupby": ["periodo"], "sort": [{"field": "orden", "order": "ascending"}], "as": ["base", "cima"]},
    {"calculate": "datum.graduados == null ? null : datum.cima", "as": "tope"},
    {"calculate": "datum.graduados == null ? null : datum.base", "as": "piso"}
  ],
  "encoding": {
    "x": {
      "field": "periodo",
      "type": "ordinal",
      "scale": {"type": "point", "padding": 0, "domain": ["2014-1","2014-2","2015-1","2015-2","2016-1","2016-2","2017-1","2017-2","2018-1","2018-2","2019-1","2019-2"]},
      "axis": {"title": null, "labelAngle": 0, "labelFont": "Roboto", "labelFontSize": 10.5, "labelColor": "#555555", "ticks": false, "domain": false, "grid": false, "labelPadding": 4, "labelOverlap": false, "labelFlush": false}
    },
    "color": {
      "field": "institucion",
      "type": "nominal",
      "scale": {
        "domain": ["Centro de Estudios Superiores María Goretti","Colegio Mayor de Antioquia","Colegio Mayor del Cauca","Corporación Universitaria Autónoma de Nariño","Corporación Universitaria de Colombia IDEAS","Corporación Universitaria Rafael Núñez","Corporación Universitaria Adventista","Corporación Universitaria Unitec","Corporación Universitaria Americana","Corporación Universitaria Comfacauca","Corporación Universitaria Republicana","Fundación Universitaria del Área Andina","Universidad Nacional Abierta y a Distancia","Corporación Universitaria Lasallista","Corporación Universitaria Autónoma del Cauca","Corporación Universitaria U de Colombia","Fundación Universitaria Católica del Norte","Fundación Universitaria Los Libertadores","Fundación Universitaria San Mateo","Corporación Universitaria de Ciencia y Desarrollo","Institución Universitaria Politécnico Grancolombiano","Institución Universitaria Antonio José Camacho","Institución Universitaria Pascual Bravo","Corporación Universitaria del Huila","Politécnico Colombiano Jaime Isaza Cadavid","Universidad Católica de Oriente","Corporación Universitaria Iberoamericana","Universidad Cooperativa de Colombia","Corporación Universitaria Minuto de Dios","Universidad del Magdalena","Universidad EAN","Corporación Universitaria Remington","Universidad del Tolima"],
        "range": ["#374649","#FD625E","#F2C80F","#3599B8","#4AC5BB","#7F898A","#8AD4EB","#FDAB89","#B687AC","#28738A","#FB8281","#B89A28","#475052","#A4DDEE","#FE9666","#A66999","#1E6470","#127C70","#6E6040","#5F6B6D","#6B3558","#293537","#E8A33D","#F4D25A","#B5E02E","#B87A92","#DFBFBF","#CDED2A","#5F6B6D","#A2ACE6","#2E3D8F","#A78F8F","#1A5C8E"]
      },
      "legend": {
        "orient": "none",
        "legendX": -41,
        "legendY": -20,
        "direction": "horizontal",
        "columns": 19,
        "title": null,
        "values": ["Centro de Estudios Superiores María Goretti","Colegio Mayor de Antioquia","Colegio Mayor del Cauca","Corporación Universitaria de Ciencia y Desarrollo","Corporación Universitaria Adventista","Corporación Universitaria Autónoma del Cauca","Corporación Universitaria U de Colombia","Corporación Universitaria Autónoma de Nariño","Corporación Universitaria Iberoamericana","Corporación Universitaria de Colombia IDEAS","Corporación Universitaria Minuto de Dios","Corporación Universitaria Republicana","Corporación Universitaria del Huila","Corporación Universitaria Rafael Núñez","Corporación Universitaria Lasallista","Corporación Universitaria Unitec","Corporación Universitaria Americana","Corporación Universitaria Comfacauca","Corporación Universitaria Remington"],
        "labelExpr": "substring(datum.label, 0, 6) + (substring(datum.label, 6, 7) == ' ' ? ' ...' : '...')",
        "symbolType": "circle",
        "symbolSize": 50,
        "symbolOpacity": 1,
        "symbolStrokeWidth": 0,
        "labelFont": "Lato",
        "labelFontSize": 11.5,
        "labelColor": "#333333",
        "labelOffset": 2,
        "columnPadding": -0.8,
        "gridAlign": "all",
        "padding": 0
      }
    }
  },
  "layer": [
    {
      "mark": {"type": "area", "fillOpacity": 0.4, "interpolate": "linear", "invalid": "break-paths-show-domains"},
      "encoding": {
        "y": {"field": "tope", "type": "quantitative", "stack": null, "scale": {"domain": [0, 23000], "nice": false, "zero": true}, "axis": null},
        "y2": {"field": "piso"}
      }
    },
    {
      "mark": {"type": "line", "strokeDash": [4, 2.5], "strokeWidth": 1.5, "interpolate": "linear", "invalid": "break-paths-show-domains"},
      "encoding": {
        "y": {"field": "tope", "type": "quantitative", "stack": null, "scale": {"domain": [0, 23000], "nice": false, "zero": true}, "axis": null}
      }
    },
    {
      "mark": {"type": "point", "filled": true, "size": 36, "opacity": 1},
      "encoding": {
        "y": {"field": "tope", "type": "quantitative", "stack": null, "scale": {"domain": [0, 23000], "nice": false, "zero": true}, "axis": null}
      }
    },
    {
      "transform": [
        {"filter": "datum.graduados != null && datum.graduados >= 580"},
        {"calculate": "(datum.base + datum.cima) / 2", "as": "medio"},
        {"calculate": "replace(format(datum.graduados / 1000, '.1f'), '.', ',') + ' mil'", "as": "etiqueta"}
      ],
      "mark": {"type": "text", "font": "Roboto", "fontSize": 11, "align": "center", "baseline": "middle"},
      "encoding": {
        "y": {"field": "medio", "type": "quantitative", "stack": null, "scale": {"domain": [0, 23000], "nice": false, "zero": true}, "axis": null},
        "text": {"field": "etiqueta", "type": "nominal"},
        "color": {"value": "#333333"}
      }
    },
    {
      "transform": [
        {"filter": "datum.orden == 0 && datum.periodo == '2014-1'"}
      ],
      "mark": {"type": "point", "opacity": 0, "filled": false, "color": "#605E5C", "strokeWidth": 1.2},
      "encoding": {
        "y": {"field": "tope", "type": "quantitative", "stack": null, "scale": {"domain": [0, 23000], "nice": false, "zero": true}, "axis": null},
        "color": {"value": "#605E5C"},
        "shape": {
          "datum": "Volver al informe",
          "scale": {"range": ["M1,-2.4L-1,0L1,2.4"]},
          "legend": {
            "orient": "none",
            "legendX": -33,
            "legendY": -65,
            "title": null,
            "strokeColor": "#8A8886",
            "padding": 7,
            "symbolSize": 46,
            "symbolStrokeWidth": 1.2,
            "symbolStrokeColor": "#605E5C",
            "symbolFillColor": "transparent",
            "symbolOpacity": 1,
            "labelFont": "Lato",
            "labelFontSize": 10,
            "labelColor": "#605E5C",
            "labelAlign": "right",
            "labelOffset": 80
          }
        }
      }
    },
    {
      "transform": [
        {"filter": "datum.orden == 0 && datum.periodo == '2014-1'"}
      ],
      "mark": {"type": "point", "opacity": 0, "filled": false, "strokeWidth": 1},
      "encoding": {
        "y": {"field": "tope", "type": "quantitative", "stack": null, "scale": {"domain": [0, 23000], "nice": false, "zero": true}, "axis": null},
        "color": {"value": "#C8C6C4"},
        "fill": {
          "datum": "separador",
          "scale": {"range": ["#C8C6C4"]},
          "legend": {
            "orient": "none",
            "legendX": -66,
            "legendY": -63,
            "title": null,
            "padding": 0,
            "symbolType": "M0,-1L0,1",
            "symbolSize": 676,
            "symbolStrokeWidth": 1,
            "symbolStrokeColor": "#C8C6C4",
            "symbolFillColor": "transparent",
            "symbolOpacity": 1,
            "labelExpr": "''",
            "labelOffset": 0
          }
        }
      }
    }
  ]
}
